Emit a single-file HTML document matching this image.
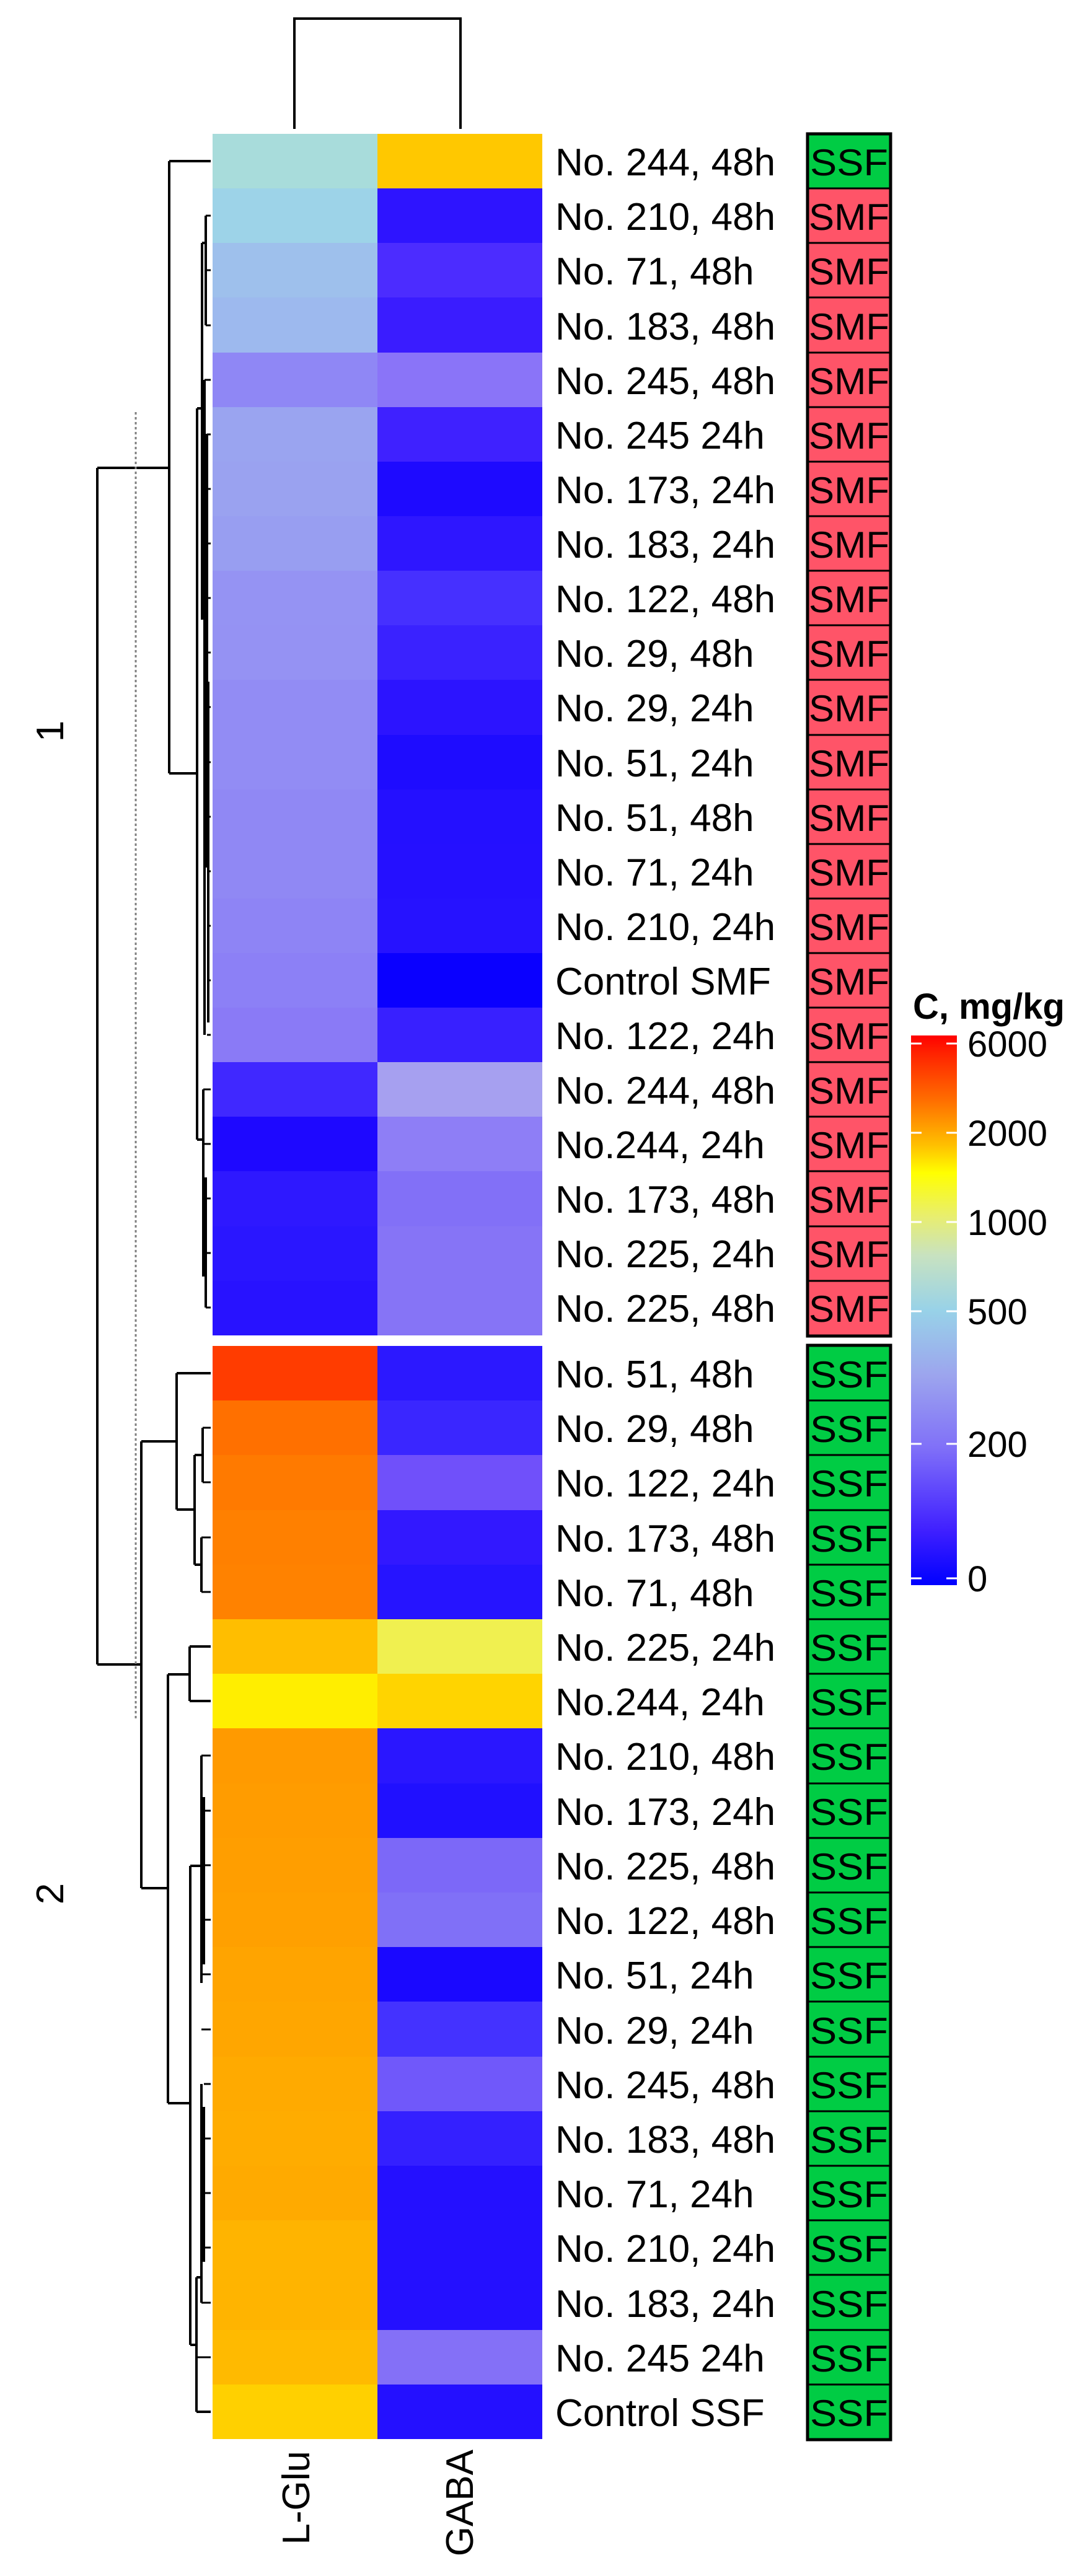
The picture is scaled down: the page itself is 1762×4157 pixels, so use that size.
<!DOCTYPE html>
<html><head><meta charset="utf-8"><style>
html,body{margin:0;padding:0;background:#fff;}
svg{display:block;}
text{font-family:"Liberation Sans",Arial,sans-serif;fill:#000;}
</style></head><body>
<svg width="1762" height="4157" viewBox="0 0 1762 4157" xmlns="http://www.w3.org/2000/svg">
<defs>
<linearGradient id="cb" x1="0" y1="0" x2="0" y2="1">
<stop offset="0" stop-color="#ff0000"/>
<stop offset="0.03" stop-color="#ff2000"/>
<stop offset="0.12" stop-color="#ff7000"/>
<stop offset="0.2" stop-color="#ffc000"/>
<stop offset="0.25" stop-color="#ffff00"/>
<stop offset="0.33" stop-color="#e8ee70"/>
<stop offset="0.4" stop-color="#c8e2c0"/>
<stop offset="0.5" stop-color="#98d2e8"/>
<stop offset="0.62" stop-color="#9ca4ee"/>
<stop offset="0.75" stop-color="#8070f8"/>
<stop offset="0.9" stop-color="#4020ff"/>
<stop offset="1" stop-color="#0000ff"/>
</linearGradient>
</defs>

<!-- column dendrogram -->
<path d="M475,208 V30 H743 V208" fill="none" stroke="#000" stroke-width="4"/>

<g id="heat" shape-rendering="crispEdges">
<!-- cluster 1 rows: y=216+88.14*i -->
<rect x="343" y="216" width="266" height="89" fill="#a8dcdb"/><rect x="609" y="216" width="266" height="89" fill="#ffc800"/>
<rect x="343" y="304" width="266" height="89" fill="#9dd3e8"/><rect x="609" y="304" width="266" height="89" fill="#2e14ff"/>
<rect x="343" y="392" width="266" height="89" fill="#9ec0ec"/><rect x="609" y="392" width="266" height="89" fill="#4c2cff"/>
<rect x="343" y="480" width="266" height="89" fill="#9db9ee"/><rect x="609" y="480" width="266" height="89" fill="#3a1cff"/>
<rect x="343" y="569" width="266" height="89" fill="#8f87f5"/><rect x="609" y="569" width="266" height="89" fill="#8a74f8"/>
<rect x="343" y="657" width="266" height="89" fill="#9aa4f0"/><rect x="609" y="657" width="266" height="89" fill="#3f21ff"/>
<rect x="343" y="745" width="266" height="89" fill="#9aa2f0"/><rect x="609" y="745" width="266" height="89" fill="#1e0aff"/>
<rect x="343" y="833" width="266" height="89" fill="#989ef1"/><rect x="609" y="833" width="266" height="89" fill="#2e16ff"/>
<rect x="343" y="921" width="266" height="89" fill="#9593f3"/><rect x="609" y="921" width="266" height="89" fill="#4630ff"/>
<rect x="343" y="1009" width="266" height="89" fill="#9592f3"/><rect x="609" y="1009" width="266" height="89" fill="#3a22ff"/>
<rect x="343" y="1097" width="266" height="89" fill="#928cf4"/><rect x="609" y="1097" width="266" height="89" fill="#2c14ff"/>
<rect x="343" y="1186" width="266" height="89" fill="#928cf4"/><rect x="609" y="1186" width="266" height="89" fill="#1e0cff"/>
<rect x="343" y="1274" width="266" height="89" fill="#9088f4"/><rect x="609" y="1274" width="266" height="89" fill="#2410ff"/>
<rect x="343" y="1362" width="266" height="89" fill="#9088f4"/><rect x="609" y="1362" width="266" height="89" fill="#2510ff"/>
<rect x="343" y="1450" width="266" height="89" fill="#8e84f5"/><rect x="609" y="1450" width="266" height="89" fill="#2612ff"/>
<rect x="343" y="1538" width="266" height="89" fill="#8c80f6"/><rect x="609" y="1538" width="266" height="89" fill="#0a00ff"/>
<rect x="343" y="1626" width="266" height="89" fill="#8a7af6"/><rect x="609" y="1626" width="266" height="89" fill="#3820ff"/>
<rect x="343" y="1714" width="266" height="89" fill="#4028ff"/><rect x="609" y="1714" width="266" height="89" fill="#a6a0f0"/>
<rect x="343" y="1802" width="266" height="89" fill="#1e08ff"/><rect x="609" y="1802" width="266" height="89" fill="#8e7ef6"/>
<rect x="343" y="1890" width="266" height="89" fill="#2e18ff"/><rect x="609" y="1890" width="266" height="89" fill="#8270f7"/>
<rect x="343" y="1979" width="266" height="89" fill="#2a16ff"/><rect x="609" y="1979" width="266" height="89" fill="#8674f6"/>
<rect x="343" y="2067" width="266" height="88" fill="#2812ff"/><rect x="609" y="2067" width="266" height="88" fill="#8674f6"/>
<!-- cluster 2 rows: y=2172+88.2*j -->
<rect x="343" y="2172" width="266" height="89" fill="#ff3c00"/><rect x="609" y="2172" width="266" height="89" fill="#2c18ff"/>
<rect x="343" y="2260" width="266" height="89" fill="#ff7000"/><rect x="609" y="2260" width="266" height="89" fill="#3a26ff"/>
<rect x="343" y="2348" width="266" height="89" fill="#ff7a00"/><rect x="609" y="2348" width="266" height="89" fill="#7050fa"/>
<rect x="343" y="2437" width="266" height="89" fill="#ff8000"/><rect x="609" y="2437" width="266" height="89" fill="#3218ff"/>
<rect x="343" y="2525" width="266" height="89" fill="#ff8200"/><rect x="609" y="2525" width="266" height="89" fill="#2614ff"/>
<rect x="343" y="2613" width="266" height="89" fill="#ffbe00"/><rect x="609" y="2613" width="266" height="89" fill="#f0f050"/>
<rect x="343" y="2701" width="266" height="89" fill="#ffee00"/><rect x="609" y="2701" width="266" height="89" fill="#ffd400"/>
<rect x="343" y="2789" width="266" height="89" fill="#ff9a00"/><rect x="609" y="2789" width="266" height="89" fill="#2a16ff"/>
<rect x="343" y="2878" width="266" height="89" fill="#ff9c00"/><rect x="609" y="2878" width="266" height="89" fill="#2010ff"/>
<rect x="343" y="2966" width="266" height="89" fill="#ff9e00"/><rect x="609" y="2966" width="266" height="89" fill="#7c68f8"/>
<rect x="343" y="3054" width="266" height="89" fill="#ffa000"/><rect x="609" y="3054" width="266" height="89" fill="#8070f7"/>
<rect x="343" y="3142" width="266" height="89" fill="#ffa400"/><rect x="609" y="3142" width="266" height="89" fill="#1a08ff"/>
<rect x="343" y="3230" width="266" height="89" fill="#ffa600"/><rect x="609" y="3230" width="266" height="89" fill="#4432ff"/>
<rect x="343" y="3319" width="266" height="89" fill="#ffaa00"/><rect x="609" y="3319" width="266" height="89" fill="#7058fa"/>
<rect x="343" y="3407" width="266" height="89" fill="#ffac00"/><rect x="609" y="3407" width="266" height="89" fill="#3420ff"/>
<rect x="343" y="3495" width="266" height="89" fill="#ffaa00"/><rect x="609" y="3495" width="266" height="89" fill="#2410ff"/>
<rect x="343" y="3583" width="266" height="89" fill="#ffb400"/><rect x="609" y="3583" width="266" height="89" fill="#2410ff"/>
<rect x="343" y="3671" width="266" height="89" fill="#ffb400"/><rect x="609" y="3671" width="266" height="89" fill="#2410ff"/>
<rect x="343" y="3760" width="266" height="89" fill="#ffba00"/><rect x="609" y="3760" width="266" height="89" fill="#8470f7"/>
<rect x="343" y="3848" width="266" height="88" fill="#ffd000"/><rect x="609" y="3848" width="266" height="88" fill="#2410ff"/>
</g>

<!-- row dendrogram -->
<g fill="none" stroke="#000" stroke-width="4">
<path d="M157,755 V2686"/>
<path d="M157,755 H273 M273,260 V1248 M273,260 H340 M273,1248 H318"/>
<path d="M318,659 V1839 M318,659 H326 M326,392 V1000 M326,392 H332 M332,348 V525"/>
<path d="M330,613 V1670 M334,700 V1400 M336,1100 V1650"/>
<path d="M318,1839 H328 M328,1758 V2060 M332,1900 V2110"/>
<path d="M157,2686 H228 M228,2326 V3047"/>
<path d="M228,2326 H285 M285,2216 V2436 M285,2216 H340 M285,2436 H314 M314,2348 V2525 M314,2348 H327 M327,2304 V2392 M314,2525 H325 M325,2481 V2569"/>
<path d="M228,3047 H271 M271,2702 V3394 M271,2702 H306 M306,2657 V2745 M306,2657 H340 M306,2745 H340"/>
<path d="M271,3394 H307 M307,3011 V3784 M307,3011 H325 M325,2833 V3200 M329,2900 V3170 M307,3784 H317 M317,3675 V3892 M317,3892 H340 M317,3675 H325 M325,3363 V3716 M329,3400 V3650"/>
</g>
<g stroke="#000" stroke-width="3">
<path d="M332,348 H340 M332,436 H340 M332,525 H340 M330,613 H340 M334,701 H340 M334,789 H340 M334,877 H340 M334,965 H340 M334,1053 H340 M334,1141 H340 M334,1230 H340 M334,1318 H340 M334,1406 H340 M334,1494 H340 M334,1582 H340 M334,1670 H340 M328,1758 H340 M330,1846 H340 M332,1934 H340 M332,2022 H340 M332,2110 H340"/>
<path d="M327,2304 H340 M327,2392 H340 M325,2481 H340 M325,2569 H340 M325,2833 H340 M329,2922 H340 M329,3010 H340 M329,3098 H340 M325,3186 H340 M325,3275 H340 M329,3363 H340 M329,3451 H340 M329,3539 H340 M329,3627 H340 M325,3716 H340 M317,3804 H340"/>
</g>
<path d="M219,665 V2775" stroke="#808080" stroke-width="3" stroke-dasharray="4,4" fill="none"/>

<text x="0" y="0" font-size="62" transform="translate(102,1180) rotate(-90)" text-anchor="middle">1</text>
<text x="0" y="0" font-size="62" transform="translate(102,3056) rotate(-90)" text-anchor="middle">2</text>

<!-- row labels -->
<g font-size="62">
<text x="896" y="283">No. 244, 48h</text>
<text x="896" y="371">No. 210, 48h</text>
<text x="896" y="459">No. 71, 48h</text>
<text x="896" y="548">No. 183, 48h</text>
<text x="896" y="636">No. 245, 48h</text>
<text x="896" y="724">No. 245 24h</text>
<text x="896" y="812">No. 173, 24h</text>
<text x="896" y="900">No. 183, 24h</text>
<text x="896" y="988">No. 122, 48h</text>
<text x="896" y="1076">No. 29, 48h</text>
<text x="896" y="1164">No. 29, 24h</text>
<text x="896" y="1253">No. 51, 24h</text>
<text x="896" y="1341">No. 51, 48h</text>
<text x="896" y="1429">No. 71, 24h</text>
<text x="896" y="1517">No. 210, 24h</text>
<text x="896" y="1605">Control SMF</text>
<text x="896" y="1693">No. 122, 24h</text>
<text x="896" y="1781">No. 244, 48h</text>
<text x="896" y="1869">No.244, 24h</text>
<text x="896" y="1957">No. 173, 48h</text>
<text x="896" y="2045">No. 225, 24h</text>
<text x="896" y="2133">No. 225, 48h</text>
<text x="896" y="2239">No. 51, 48h</text>
<text x="896" y="2327">No. 29, 48h</text>
<text x="896" y="2415">No. 122, 24h</text>
<text x="896" y="2504">No. 173, 48h</text>
<text x="896" y="2592">No. 71, 48h</text>
<text x="896" y="2680">No. 225, 24h</text>
<text x="896" y="2768">No.244, 24h</text>
<text x="896" y="2856">No. 210, 48h</text>
<text x="896" y="2945">No. 173, 24h</text>
<text x="896" y="3033">No. 225, 48h</text>
<text x="896" y="3121">No. 122, 48h</text>
<text x="896" y="3209">No. 51, 24h</text>
<text x="896" y="3298">No. 29, 24h</text>
<text x="896" y="3386">No. 245, 48h</text>
<text x="896" y="3474">No. 183, 48h</text>
<text x="896" y="3562">No. 71, 24h</text>
<text x="896" y="3650">No. 210, 24h</text>
<text x="896" y="3739">No. 183, 24h</text>
<text x="896" y="3827">No. 245 24h</text>
<text x="896" y="3915">Control SSF</text>
</g>

<!-- annotation column -->
<g stroke="#000" stroke-width="3">
<rect x="1304" y="217" width="132" height="87" fill="#00cc44"/>
<g fill="#ff5468">
<rect x="1304" y="304" width="132" height="88"/><rect x="1304" y="392" width="132" height="88"/>
<rect x="1304" y="480" width="132" height="89"/><rect x="1304" y="569" width="132" height="88"/>
<rect x="1304" y="657" width="132" height="88"/><rect x="1304" y="745" width="132" height="88"/>
<rect x="1304" y="833" width="132" height="88"/><rect x="1304" y="921" width="132" height="88"/>
<rect x="1304" y="1009" width="132" height="88"/><rect x="1304" y="1097" width="132" height="89"/>
<rect x="1304" y="1186" width="132" height="88"/><rect x="1304" y="1274" width="132" height="88"/>
<rect x="1304" y="1362" width="132" height="88"/><rect x="1304" y="1450" width="132" height="88"/>
<rect x="1304" y="1538" width="132" height="88"/><rect x="1304" y="1626" width="132" height="88"/>
<rect x="1304" y="1714" width="132" height="88"/><rect x="1304" y="1802" width="132" height="88"/>
<rect x="1304" y="1890" width="132" height="89"/><rect x="1304" y="1979" width="132" height="88"/>
<rect x="1304" y="2067" width="132" height="88"/>
</g>
<g fill="#00cc44">
<rect x="1304" y="2172" width="132" height="88"/><rect x="1304" y="2260" width="132" height="88"/>
<rect x="1304" y="2348" width="132" height="89"/><rect x="1304" y="2437" width="132" height="88"/>
<rect x="1304" y="2525" width="132" height="88"/><rect x="1304" y="2613" width="132" height="88"/>
<rect x="1304" y="2701" width="132" height="88"/><rect x="1304" y="2789" width="132" height="89"/>
<rect x="1304" y="2878" width="132" height="88"/><rect x="1304" y="2966" width="132" height="88"/>
<rect x="1304" y="3054" width="132" height="88"/><rect x="1304" y="3142" width="132" height="88"/>
<rect x="1304" y="3230" width="132" height="89"/><rect x="1304" y="3319" width="132" height="88"/>
<rect x="1304" y="3407" width="132" height="88"/><rect x="1304" y="3495" width="132" height="88"/>
<rect x="1304" y="3583" width="132" height="88"/><rect x="1304" y="3671" width="132" height="89"/>
<rect x="1304" y="3760" width="132" height="88"/><rect x="1304" y="3848" width="132" height="88"/>
</g>
</g>
<g fill="none" stroke="#000" stroke-width="5">
<rect x="1303" y="216" width="134" height="1940"/>
<rect x="1303" y="2171" width="134" height="1766"/>
</g>
<g font-size="60">
<text x="1307" y="283" textLength="126" lengthAdjust="spacingAndGlyphs">SSF</text>
<text x="1305" y="371" textLength="130" lengthAdjust="spacingAndGlyphs">SMF</text>
<text x="1305" y="459" textLength="130" lengthAdjust="spacingAndGlyphs">SMF</text>
<text x="1305" y="548" textLength="130" lengthAdjust="spacingAndGlyphs">SMF</text>
<text x="1305" y="636" textLength="130" lengthAdjust="spacingAndGlyphs">SMF</text>
<text x="1305" y="724" textLength="130" lengthAdjust="spacingAndGlyphs">SMF</text>
<text x="1305" y="812" textLength="130" lengthAdjust="spacingAndGlyphs">SMF</text>
<text x="1305" y="900" textLength="130" lengthAdjust="spacingAndGlyphs">SMF</text>
<text x="1305" y="988" textLength="130" lengthAdjust="spacingAndGlyphs">SMF</text>
<text x="1305" y="1076" textLength="130" lengthAdjust="spacingAndGlyphs">SMF</text>
<text x="1305" y="1164" textLength="130" lengthAdjust="spacingAndGlyphs">SMF</text>
<text x="1305" y="1253" textLength="130" lengthAdjust="spacingAndGlyphs">SMF</text>
<text x="1305" y="1341" textLength="130" lengthAdjust="spacingAndGlyphs">SMF</text>
<text x="1305" y="1429" textLength="130" lengthAdjust="spacingAndGlyphs">SMF</text>
<text x="1305" y="1517" textLength="130" lengthAdjust="spacingAndGlyphs">SMF</text>
<text x="1305" y="1605" textLength="130" lengthAdjust="spacingAndGlyphs">SMF</text>
<text x="1305" y="1693" textLength="130" lengthAdjust="spacingAndGlyphs">SMF</text>
<text x="1305" y="1781" textLength="130" lengthAdjust="spacingAndGlyphs">SMF</text>
<text x="1305" y="1869" textLength="130" lengthAdjust="spacingAndGlyphs">SMF</text>
<text x="1305" y="1957" textLength="130" lengthAdjust="spacingAndGlyphs">SMF</text>
<text x="1305" y="2045" textLength="130" lengthAdjust="spacingAndGlyphs">SMF</text>
<text x="1305" y="2133" textLength="130" lengthAdjust="spacingAndGlyphs">SMF</text>
<text x="1307" y="2239" textLength="126" lengthAdjust="spacingAndGlyphs">SSF</text>
<text x="1307" y="2327" textLength="126" lengthAdjust="spacingAndGlyphs">SSF</text>
<text x="1307" y="2415" textLength="126" lengthAdjust="spacingAndGlyphs">SSF</text>
<text x="1307" y="2504" textLength="126" lengthAdjust="spacingAndGlyphs">SSF</text>
<text x="1307" y="2592" textLength="126" lengthAdjust="spacingAndGlyphs">SSF</text>
<text x="1307" y="2680" textLength="126" lengthAdjust="spacingAndGlyphs">SSF</text>
<text x="1307" y="2768" textLength="126" lengthAdjust="spacingAndGlyphs">SSF</text>
<text x="1307" y="2856" textLength="126" lengthAdjust="spacingAndGlyphs">SSF</text>
<text x="1307" y="2945" textLength="126" lengthAdjust="spacingAndGlyphs">SSF</text>
<text x="1307" y="3033" textLength="126" lengthAdjust="spacingAndGlyphs">SSF</text>
<text x="1307" y="3121" textLength="126" lengthAdjust="spacingAndGlyphs">SSF</text>
<text x="1307" y="3209" textLength="126" lengthAdjust="spacingAndGlyphs">SSF</text>
<text x="1307" y="3298" textLength="126" lengthAdjust="spacingAndGlyphs">SSF</text>
<text x="1307" y="3386" textLength="126" lengthAdjust="spacingAndGlyphs">SSF</text>
<text x="1307" y="3474" textLength="126" lengthAdjust="spacingAndGlyphs">SSF</text>
<text x="1307" y="3562" textLength="126" lengthAdjust="spacingAndGlyphs">SSF</text>
<text x="1307" y="3650" textLength="126" lengthAdjust="spacingAndGlyphs">SSF</text>
<text x="1307" y="3739" textLength="126" lengthAdjust="spacingAndGlyphs">SSF</text>
<text x="1307" y="3827" textLength="126" lengthAdjust="spacingAndGlyphs">SSF</text>
<text x="1307" y="3915" textLength="126" lengthAdjust="spacingAndGlyphs">SSF</text>
</g>

<!-- column labels -->
<text font-size="62" text-anchor="end" transform="translate(499,3955) rotate(-90)">L-Glu</text>
<text font-size="62" text-anchor="end" transform="translate(763,3953) rotate(-90)">GABA</text>

<!-- color key -->
<text x="1473" y="1644" font-size="58" font-weight="bold">C, mg/kg</text>
<rect x="1470" y="1671" width="74" height="887" fill="url(#cb)"/>
<g stroke="#fff" stroke-width="3">
<path d="M1470,1684 H1487 M1527,1684 H1544"/>
<path d="M1470,1828 H1487 M1527,1828 H1544"/>
<path d="M1470,1972 H1487 M1527,1972 H1544"/>
<path d="M1470,2116 H1487 M1527,2116 H1544"/>
<path d="M1470,2330 H1487 M1527,2330 H1544"/>
<path d="M1470,2547 H1487 M1527,2547 H1544"/>
</g>
<g font-size="58">
<text x="1561" y="1705">6000</text>
<text x="1561" y="1849">2000</text>
<text x="1561" y="1993">1000</text>
<text x="1561" y="2137">500</text>
<text x="1561" y="2351">200</text>
<text x="1561" y="2568">0</text>
</g>
</svg>
</body></html>
